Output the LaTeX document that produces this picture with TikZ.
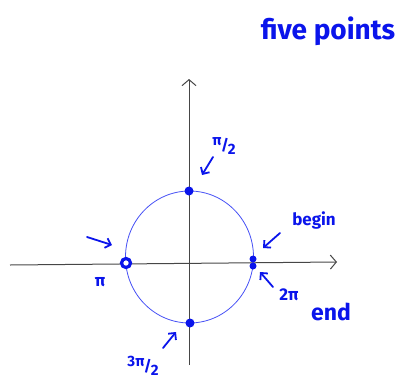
\documentclass[tikz,border=0pt]{standalone}
\usepackage{fontspec}
\setmainfont{Fira Sans}
\usetikzlibrary{arrows.meta}
\definecolor{ink}{RGB}{10,20,235}
\definecolor{circ}{RGB}{70,80,245}
\definecolor{axis}{RGB}{70,70,70}
\newcommand{\myfrac}[2]{\raisebox{5pt}{#1}\kern-0.5pt/\kern-1pt\raisebox{-4pt}{#2}}
\tikzset{
  hand/.style={text=ink, font=\bfseries\fontsize{17}{17}\selectfont, inner sep=0pt},
  dot/.style={circle, fill=ink, inner sep=0pt, minimum size=9pt},
  ptr/.style={draw=ink, line width=1.8pt, line cap=round, -{Straight Barb[length=5pt,width=10pt]}},
  ax/.style={draw=axis, line width=1pt, -{Straight Barb[length=6pt,width=14pt,line width=1pt]}}
}
\begin{document}
\begin{tikzpicture}[x=1pt,y=-1pt]
\useasboundingbox (0,0) rectangle (417,391);
% axes
\coordinate (xl) at (10,265);
\coordinate (xr) at (337,262);
\coordinate (yb) at (189,365);
\coordinate (yt) at (189,79);
\draw[ax] (xl) -- (xr);
\draw[ax] (yb) -- (yt);
% circle
\coordinate (c) at (189.5,257);
\draw[circ, line width=0.8pt] (c) ellipse [x radius=64, y radius=66];
% points
\node[dot] (top) at (189,191) {};
\node[dot] (bot) at (190,323) {};
\node[circle, draw=ink, fill=white, line width=3.2pt, inner sep=0pt, minimum size=9pt] (left) at (126,263) {};
\node[dot, minimum size=7pt] (beg) at (253,259) {};
\node[dot, minimum size=7pt] (fin) at (253,266) {};
% title
\node[hand, font=\bfseries\fontsize{28}{28}\selectfont] (title) at (328,31) {five points};
% labels
\node[hand, font=\bfseries\fontsize{15}{15}\selectfont] (lhalf) at (224,146) {\myfrac{π}{2}};
\coordinate (a1s) at (213,157);
\coordinate (a1e) at (202,175);
\draw[ptr] (a1s) -- (a1e);
\node[hand] (lpi) at (100,282) {π};
\coordinate (a2s) at (87,237);
\coordinate (a2e) at (112,245);
\draw[ptr] (a2s) -- (a2e);
\node[hand] (lbegin) at (314,220) {begin};
\coordinate (a3s) at (280,233);
\coordinate (a3e) at (263,248);
\draw[ptr] (a3s) -- (a3e);
\node[hand] (l2pi) at (289,295) {2π};
\coordinate (a4s) at (273,287);
\coordinate (a4e) at (260,272);
\draw[ptr] (a4s) -- (a4e);
\node[hand, font=\bfseries\fontsize{23}{23}\selectfont] (lend) at (331,312) {end};
\node[hand, font=\bfseries\fontsize{15}{15}\selectfont] (l3half) at (143,366) {\myfrac{3π}{2}};
\coordinate (a5s) at (163,348);
\coordinate (a5e) at (176,332);
\draw[ptr] (a5s) -- (a5e);
\end{tikzpicture}
\end{document}
